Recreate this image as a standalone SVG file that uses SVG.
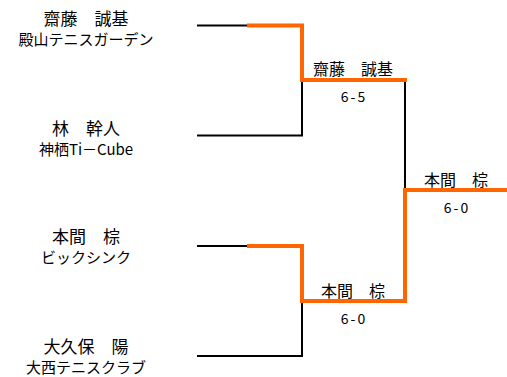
<svg xmlns="http://www.w3.org/2000/svg" width="507" height="377" viewBox="0 0 507 377">
<style>
text{font-family:"Noto Sans CJK JP","Liberation Sans",sans-serif;fill:#000;text-anchor:middle}
.n{font-size:17px}
.c{font-size:15px}
.w{font-size:16px}
.s{font-size:14px;letter-spacing:2px}
.b{fill:none;stroke:#000;stroke-width:2}
.o{fill:none;stroke:#FF6600;stroke-width:4}
</style>
<rect width="507" height="377" fill="#fff"/>
<g id="connectors">
<path class="b" d="M197,25.5H248"/>
<path class="b" d="M197,135.5H302V80"/>
<path class="b" d="M405,80V190"/>
<path class="b" d="M197,246H248"/>
<path class="b" d="M197,356H302V301"/>
<path class="o" d="M247,25.5H302V80H407"/>
<path class="o" d="M247,246H302V301H407"/>
<path class="o" d="M405,301V190H507"/>
</g>
<g id="p1"><text class="n" x="86" y="25">齋藤　誠基</text><text class="c" x="86" y="44.5">殿山テニスガーデン</text></g>
<g id="p2"><text class="n" x="86" y="135">林　幹人</text><text class="c" x="86" y="154.5">神栖Ti－Cube</text></g>
<g id="p3"><text class="n" x="86" y="243">本間　棕</text><text class="c" x="86" y="263">ビックシンク</text></g>
<g id="p4"><text class="n" x="86" y="353">大久保　陽</text><text class="c" x="86" y="372.5">大西テニスクラブ</text></g>
<g id="w1"><text class="w" x="353" y="75">齋藤　誠基</text><text class="s" x="354" y="102">6-5</text></g>
<g id="w2"><text class="w" x="353" y="297">本間　棕</text><text class="s" x="354" y="324">6-0</text></g>
<g id="w3"><text class="w" x="456" y="186">本間　棕</text><text class="s" x="457" y="213">6-0</text></g>
</svg>
